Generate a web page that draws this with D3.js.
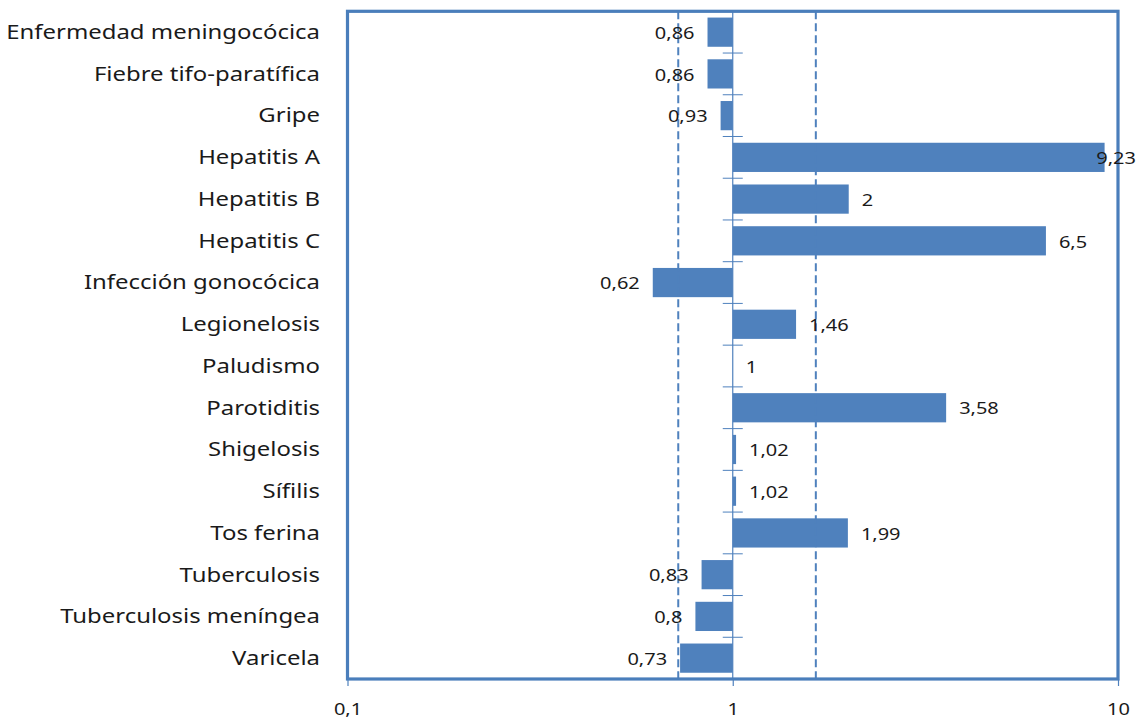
<!DOCTYPE html>
<html>
<head>
<meta charset="utf-8">
<script src="https://cdn.jsdelivr.net/npm/d3@7"></script>
<style>
  body { margin: 0; background: #fff; }
  text { font-family: 'Noto Sans', sans-serif; fill: #1a1a1a; }
</style>
</head>
<body>
<script>
const categories = [
  'Enfermedad meningocócica', 'Fiebre tifo-paratífica', 'Gripe', 'Hepatitis A',
  'Hepatitis B', 'Hepatitis C', 'Infección gonocócica', 'Legionelosis',
  'Paludismo', 'Parotiditis', 'Shigelosis', 'Sífilis', 'Tos ferina',
  'Tuberculosis', 'Tuberculosis meníngea', 'Varicela'
];
const values = [0.86, 0.86, 0.93, 9.23, 2, 6.5, 0.62, 1.46, 1, 3.58, 1.02, 1.02, 1.99, 0.83, 0.8, 0.73];
const refLines = [0.722, 1.643];
const xTicks = [0.1, 1, 10];

const width = 1137;
const height = 720;
const plot = { left: 347.5, right: 1118, top: 11.3, bottom: 679 };
const blue = '#4f81bd';
const sx = 1.22; // text in the original is drawn wide
const fmt = v => String(v).replace('.', ',');

const x = d3.scaleLog()
  .domain([0.1, 10])
  .range([plot.left, plot.right]);
const y = d3.scaleBand()
  .domain(categories)
  .range([plot.top, plot.bottom])
  .paddingInner(0.3)
  .paddingOuter(0.15);

const svg = d3.select(document.body).append('svg')
  .attr('width', width)
  .attr('height', height);

// bars from 1
svg.append('g').selectAll('rect')
  .data(categories)
  .enter().append('rect')
  .attr('x', (d, i) => Math.min(x(values[i]), x(1)))
  .attr('y', d => y(d))
  .attr('width', (d, i) => Math.abs(x(values[i]) - x(1)))
  .attr('height', y.bandwidth())
  .attr('fill', blue);

// dashed reference lines
svg.append('g').selectAll('line')
  .data(refLines)
  .enter().append('line')
  .attr('x1', d => x(d)).attr('x2', d => x(d))
  .attr('y1', plot.top).attr('y2', plot.bottom)
  .attr('stroke', blue)
  .attr('stroke-width', 2)
  .attr('stroke-dasharray', '8,4');

// vertical axis at 1 with ticks between categories
const step = y.step();
const boundaries = d3.range(1, categories.length).map(i => y(categories[i]) - step * y.paddingInner() / 2);
const yAxis = svg.append('g').attr('class', 'axis axis--y');
yAxis.append('line')
  .attr('x1', x(1)).attr('x2', x(1))
  .attr('y1', plot.top).attr('y2', plot.bottom)
  .attr('stroke', blue).attr('stroke-width', 1.2);
yAxis.selectAll('.tick')
  .data(boundaries)
  .enter().append('line')
  .attr('class', 'tick')
  .attr('x1', x(1) - 10).attr('x2', x(1) + 10)
  .attr('y1', d => d).attr('y2', d => d)
  .attr('stroke', blue).attr('stroke-width', 1);

// bottom axis ticks + labels
const xAxis = d3.axisBottom(x)
  .tickValues(xTicks)
  .tickFormat(fmt)
  .tickSize(7)
  .tickPadding(17);
const gx = svg.append('g')
  .attr('class', 'axis axis--x')
  .attr('transform', `translate(0, ${plot.bottom})`)
  .call(xAxis);
gx.select('.domain').remove();
gx.selectAll('.tick line').attr('stroke', blue).attr('stroke-width', 1.2);
gx.selectAll('.tick text')
  .attr('fill', '#1a1a1a')
  .attr('transform', `scale(${sx},1)`)
  .style('font-size', '16.4px')
  .style('font-family', "'Noto Sans', sans-serif");

// plot border
svg.append('rect')
  .attr('x', plot.left).attr('y', plot.top)
  .attr('width', plot.right - plot.left)
  .attr('height', plot.bottom - plot.top)
  .attr('fill', 'none')
  .attr('stroke', '#4a7ebb')
  .attr('stroke-width', 3.2);

// category labels
svg.append('g').selectAll('text')
  .data(categories)
  .enter().append('text')
  .attr('transform', d => `translate(320, ${y(d) + y.bandwidth() / 2}) scale(${sx},1)`)
  .attr('dy', '0.35em')
  .attr('text-anchor', 'end')
  .style('font-size', '19.6px')
  .text(d => d);

// value labels
svg.append('g').selectAll('text')
  .data(categories)
  .enter().append('text')
  .attr('dy', '0.35em')
  .style('font-size', '16.4px')
  .text((d, i) => fmt(values[i]))
  .each(function(d, i) {
    const v = values[i];
    const t = d3.select(this);
    const ty = y(d) + y.bandwidth() / 2 + 1;
    let tx;
    if (v < 1) {
      tx = x(v) - 13;
      t.attr('text-anchor', 'end');
    } else {
      const w = this.getComputedTextLength() * sx;
      tx = Math.min(x(v) + 13, width - 1 - w);
      t.attr('text-anchor', 'start');
    }
    t.attr('transform', `translate(${tx}, ${ty}) scale(${sx},1)`);
  });
</script>
</body>
</html>
